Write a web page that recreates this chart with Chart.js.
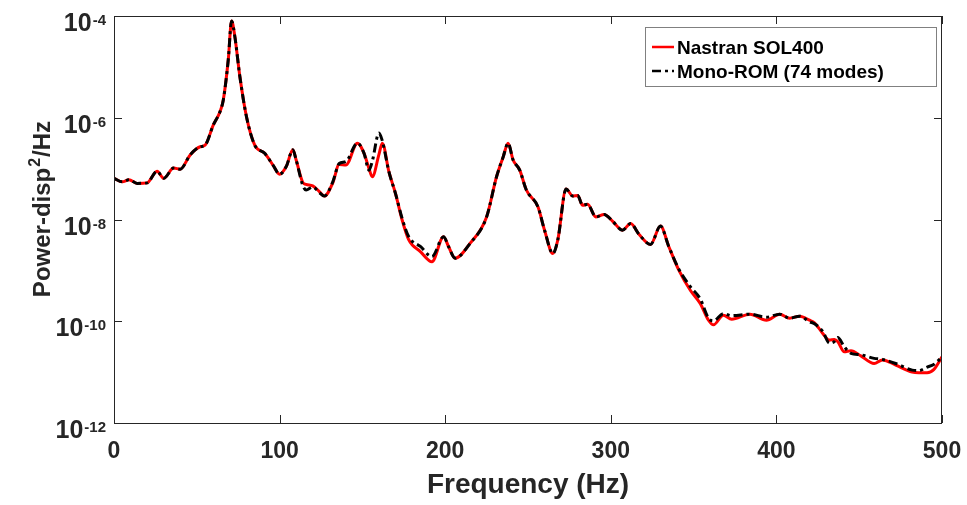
<!DOCTYPE html>
<html>
<head>
<meta charset="utf-8">
<script src="https://cdn.jsdelivr.net/npm/chart.js@4.4.1/dist/chart.umd.min.js"></script>
<style>
  html, body { margin: 0; padding: 0; background: #fff; }
  canvas { display: block; }
</style>
</head>
<body>
<canvas id="psd" width="967" height="505"></canvas>
<script>
// frequency grid (Hz)
const freq = [0,5,9,14,20,26,30,36,40,46, 52,55,60,64,66,69,71,73,76,80,
  85,91,96,100,104,108,110,114,116,120, 124,127,132,136,140,147,151,154,156,160,
  162,166,170,174,178,185,192,199,202,206, 215,225,231,235,238,241,245,249,256,260,
  265,268,273,277,280,283,286,291,296,301, 307,312,317,324,330,335,341,348,354,359,
  362,368,373,384,394,402,408,414,420,423, 428,432,435,437,441,445,451,459,464,472,
  482,486,491,495,500];

// log10 of PSD
const nastranExp = [-7.19,-7.26,-7.22,-7.29,-7.28,-7.05,-7.19,-6.99,-7.01,-6.73,
  -6.57,-6.54,-6.14,-5.88,-5.65,-4.86,-4.10,-4.41,-5.19,-5.98,
  -6.54,-6.70,-6.93,-7.11,-6.96,-6.63,-6.83,-7.27,-7.31,-7.34,
  -7.45,-7.54,-7.29,-6.92,-6.93,-6.50,-6.70,-7.00,-7.16,-6.72,
  -6.50,-7.06,-7.49,-8.01,-8.40,-8.63,-8.83,-8.34,-8.53,-8.76,
  -8.47,-7.95,-7.16,-6.77,-6.50,-6.83,-7.03,-7.42,-7.75,-8.21,
  -8.67,-8.40,-7.40,-7.54,-7.53,-7.72,-7.70,-7.95,-7.90,-8.03,
  -8.21,-8.08,-8.29,-8.49,-8.13,-8.53,-8.99,-9.39,-9.65,-9.98,
  -10.07,-9.88,-9.96,-9.86,-9.98,-9.86,-9.94,-9.90,-9.98,-10.03,
  -10.24,-10.37,-10.36,-10.40,-10.60,-10.58,-10.68,-10.83,-10.76,-10.86,
  -11.00,-11.01,-11.01,-10.95,-10.70];

const romExp = [-7.19,-7.26,-7.22,-7.29,-7.28,-7.05,-7.19,-6.99,-7.01,-6.73,
  -6.57,-6.54,-6.14,-5.88,-5.65,-4.86,-4.10,-4.41,-5.19,-5.98,
  -6.54,-6.70,-6.93,-7.11,-6.96,-6.63,-6.83,-7.33,-7.42,-7.36,
  -7.47,-7.54,-7.27,-6.90,-6.86,-6.50,-6.70,-7.03,-6.85,-6.30,
  -6.45,-7.06,-7.49,-7.98,-8.34,-8.53,-8.73,-8.34,-8.53,-8.76,
  -8.47,-7.95,-7.16,-6.77,-6.50,-6.83,-7.03,-7.42,-7.75,-8.21,
  -8.67,-8.40,-7.40,-7.54,-7.53,-7.72,-7.70,-7.95,-7.90,-8.03,
  -8.21,-8.08,-8.29,-8.49,-8.13,-8.53,-8.97,-9.32,-9.56,-9.94,
  -9.99,-9.85,-9.89,-9.86,-9.92,-9.86,-9.94,-9.90,-10.01,-10.05,
  -10.20,-10.43,-10.40,-10.32,-10.50,-10.63,-10.66,-10.73,-10.75,-10.83,
  -10.96,-10.97,-10.90,-10.85,-10.70];

const xTicks = [0, 100, 200, 300, 400, 500];
const yTickExp = [-12, -10, -8, -6, -4];

const axisColor = '#262626';
const fontFam = '"Liberation Sans", Arial, sans-serif';

function toPoints(exps) {
  return freq.map((f, i) => ({ x: f, y: Math.pow(10, exps[i]) }));
}

// axes box, inward ticks, labels, titles and legend (MATLAB look)
const matlabFrame = {
  id: 'matlabFrame',
  afterDraw(chart) {
    const { ctx, chartArea: a, scales: { x, y } } = chart;
    ctx.save();
    ctx.strokeStyle = axisColor;
    ctx.lineWidth = 1;
    ctx.strokeRect(a.left + 0.5, a.top + 0.5, a.right - a.left - 1, a.bottom - a.top);

    ctx.beginPath();
    xTicks.forEach(v => {
      const px = Math.round(x.getPixelForValue(v)) + 0.5;
      ctx.moveTo(px, a.bottom); ctx.lineTo(px, a.bottom - 8);
      ctx.moveTo(px, a.top); ctx.lineTo(px, a.top + 8);
    });
    yTickExp.forEach(e => {
      const py = Math.round(y.getPixelForValue(Math.pow(10, e))) + 0.5;
      ctx.moveTo(a.left, py); ctx.lineTo(a.left + 8, py);
      ctx.moveTo(a.right, py); ctx.lineTo(a.right - 8, py);
    });
    ctx.stroke();

    ctx.fillStyle = axisColor;
    // x tick labels
    ctx.font = 'bold 23px ' + fontFam;
    ctx.textAlign = 'center';
    ctx.textBaseline = 'alphabetic';
    xTicks.forEach(v => ctx.fillText(String(v), x.getPixelForValue(v), 458));

    // y tick labels 10^e
    ctx.textAlign = 'left';
    yTickExp.forEach(e => {
      const py = y.getPixelForValue(Math.pow(10, e));
      ctx.font = 'bold 25px ' + fontFam;
      const wb = ctx.measureText('10').width;
      ctx.font = 'bold 15px ' + fontFam;
      const sup = '-' + Math.abs(e);
      const we = ctx.measureText(sup).width;
      const sx = 106 - wb - we - 1;
      ctx.font = 'bold 25px ' + fontFam;
      ctx.fillText('10', sx, py + 15);
      ctx.font = 'bold 15px ' + fontFam;
      ctx.fillText(sup, sx + wb + 1, py + 9);
    });

    // x title
    ctx.font = 'bold 28px ' + fontFam;
    ctx.textAlign = 'center';
    ctx.fillText('Frequency (Hz)', (a.left + a.right) / 2, 493);

    // y title with superscript
    ctx.save();
    ctx.translate(50, 209);
    ctx.rotate(-Math.PI / 2);
    ctx.textAlign = 'left';
    ctx.font = 'bold 24px ' + fontFam;
    const p1 = 'Power-disp', p3 = '/Hz';
    const w1 = ctx.measureText(p1).width, w3 = ctx.measureText(p3).width;
    ctx.font = 'bold 16px ' + fontFam;
    const w2 = ctx.measureText('2').width;
    let tx = -(w1 + w2 + w3 + 2) / 2;
    ctx.font = 'bold 24px ' + fontFam;
    ctx.fillText(p1, tx, 0);
    ctx.font = 'bold 16px ' + fontFam;
    ctx.fillText('2', tx + w1 + 1, -10);
    ctx.font = 'bold 24px ' + fontFam;
    ctx.fillText(p3, tx + w1 + w2 + 2, 0);
    ctx.restore();

    // legend
    ctx.fillStyle = '#fff';
    ctx.fillRect(645, 27, 291, 59);
    ctx.strokeStyle = '#808080';
    ctx.strokeRect(645.5, 27.5, 291, 59);
    const rows = [chart.data.datasets[1], chart.data.datasets[0]];
    rows.forEach((ds, i) => {
      const cy = 47 + i * 24;
      ctx.strokeStyle = ds.borderColor;
      ctx.lineWidth = 2.5;
      ctx.setLineDash(ds.borderDash || []);
      ctx.beginPath();
      ctx.moveTo(652, cy); ctx.lineTo(674, cy);
      ctx.stroke();
      ctx.setLineDash([]);
      ctx.fillStyle = '#000';
      ctx.font = 'bold 19px ' + fontFam;
      ctx.textAlign = 'left';
      ctx.fillText(ds.label, 677, cy + 6.5);
    });
    ctx.restore();
  }
};

new Chart(document.getElementById('psd'), {
  type: 'line',
  data: {
    datasets: [
      {
        label: 'Mono-ROM (74 modes)',
        data: toPoints(romExp),
        borderColor: '#000000',
        borderWidth: 3,
        borderDash: [9, 4, 3, 4],
        pointRadius: 0,
        cubicInterpolationMode: 'monotone',
        order: 0
      },
      {
        label: 'Nastran SOL400',
        data: toPoints(nastranExp),
        borderColor: '#ff0000',
        borderWidth: 3,
        pointRadius: 0,
        cubicInterpolationMode: 'monotone',
        order: 1
      }
    ]
  },
  options: {
    responsive: false,
    animation: false,
    layout: { padding: { top: 16, right: 25, left: 0, bottom: 0 } },
    plugins: { legend: { display: false }, tooltip: { enabled: false } },
    scales: {
      x: {
        type: 'linear', min: 0, max: 500,
        grid: { display: false }, border: { display: false },
        ticks: { display: false },
        afterFit: s => { s.height = 82; }
      },
      y: {
        type: 'logarithmic', min: 1e-12, max: 1e-4,
        grid: { display: false }, border: { display: false },
        ticks: { display: false },
        afterFit: s => { s.width = 114; }
      }
    }
  },
  plugins: [matlabFrame]
});
</script>
</body>
</html>
